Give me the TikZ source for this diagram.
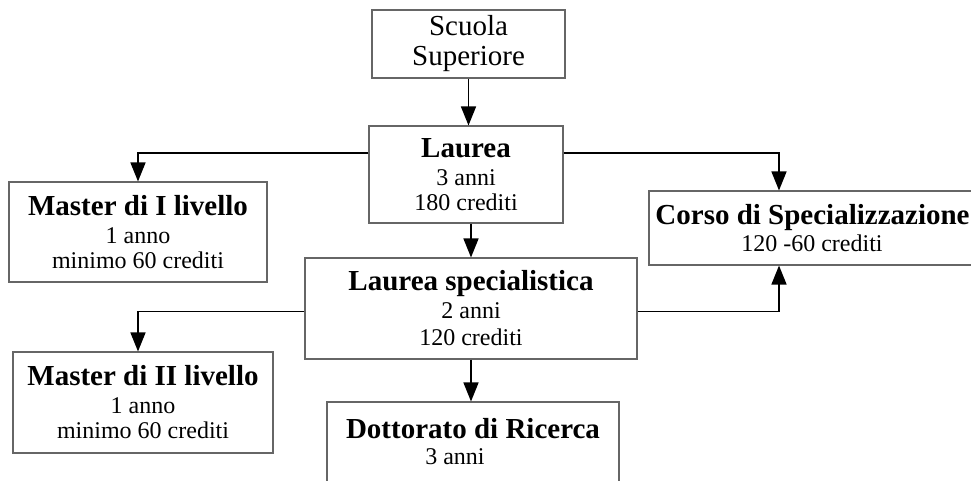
\documentclass[tikz,border=0pt]{standalone}
\usepackage{fontspec}
\setmainfont{Liberation Serif}
\usetikzlibrary{arrows.meta}
\newcommand{\hd}[1]{{\fontsize{29}{30}\selectfont\bfseries #1}}

\begin{document}
\begin{tikzpicture}[
    x=1pt, y=-1pt,
    >={Triangle[width=15pt,length=19pt]},
    box/.style={draw=black!60, line width=1.1pt, fill=white, align=center,
                inner sep=0pt, font=\fontsize{24}{25}\selectfont},
    arr/.style={->, line width=1.5pt, black}
]
\useasboundingbox (0,0) rectangle (971,480);

% ---- boxes ----
\node[box, minimum width=193pt, minimum height=68pt,
      font=\fontsize{29}{30}\selectfont] (scuola) at (468.5,44) {Scuola\\Superiore};
\node[box, minimum width=194pt, minimum height=97pt] (laurea) at (466,174.5)
     {\hd{Laurea}\\[3pt]3 anni\\180 crediti};
\node[box, minimum width=258pt, minimum height=100pt] (master1) at (138,232)
     {\hd{Master di I livello}\\[3pt]1 anno\\minimo 60 crediti};
\node[box, minimum width=332pt, minimum height=101pt] (spec) at (471,308.5)
     {\hd{Laurea specialistica}\\[3pt]2 anni\\[2pt]120 crediti};
\node[box, minimum width=336pt, minimum height=74pt] (corso) at (817,228)
     {\hd{Corso di Specializzazione}\hspace*{9pt}\\[2pt]120 -60 crediti\hspace*{10pt}};
\node[box, minimum width=260pt, minimum height=101pt] (master2) at (143,402.5)
     {\hd{Master di II livello}\\[3pt]1 anno\\minimo 60 crediti};
\node[box, minimum width=292pt, minimum height=80pt] (dott) at (473,442)
     {\hd{Dottorato di Ricerca}\\[1pt]3 anni\hspace*{36pt}};

% ---- connectors ----
\draw[arr] (scuola.south) -- (scuola.south |- laurea.north);
\draw[arr] ([yshift=21.5pt]laurea.west) -| (master1.north);
\draw[arr] ([yshift=21.5pt]laurea.east) -| ([xshift=-38pt]corso.north);
\draw[arr] (spec.north |- laurea.south) -- (spec.north);
\draw[arr] ([yshift=-3pt]spec.west) -| ([xshift=-5pt]master2.north);
\draw[arr] ([yshift=-3pt]spec.east) -| ([xshift=-38pt]corso.south);
\draw[arr] (spec.south) -- (spec.south |- dott.north);
\end{tikzpicture}
\end{document}
